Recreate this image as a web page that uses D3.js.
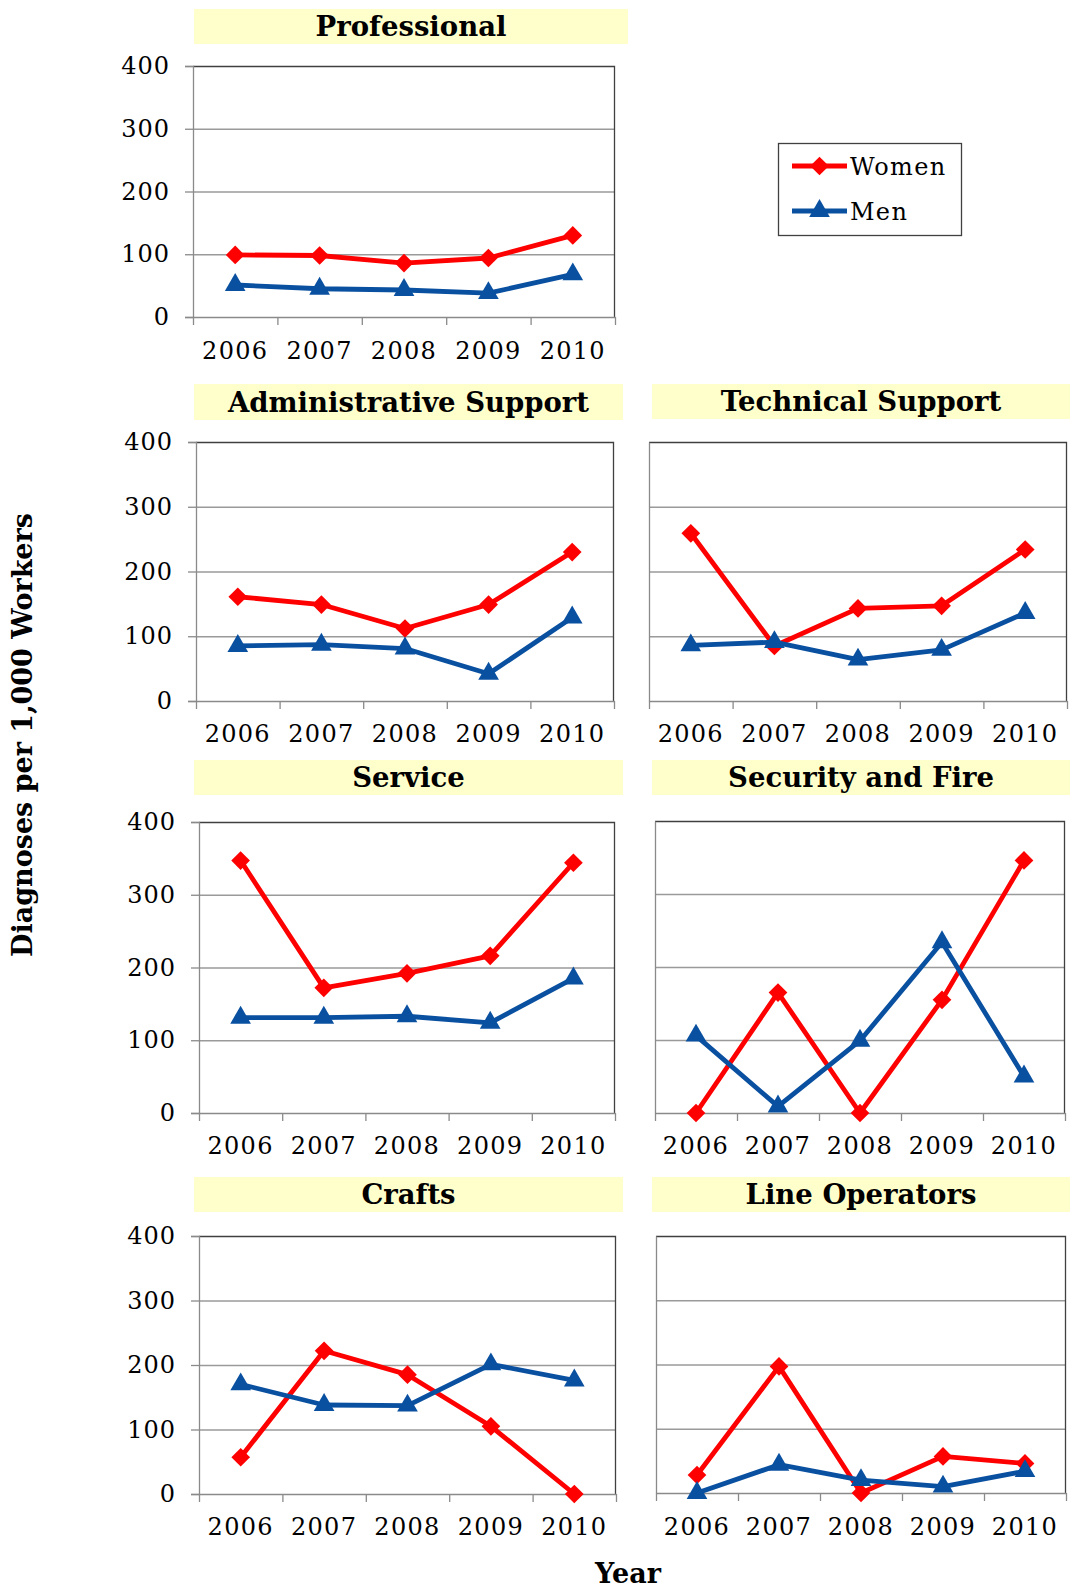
<!DOCTYPE html>
<html>
<head>
<meta charset="utf-8">
<script src="https://cdn.jsdelivr.net/npm/d3@7"></script>
<style>
  body { margin: 0; background: #fff; }
  svg { display: block; }
  text { font-family: "DejaVu Serif", serif; fill: #000; }
</style>
</head>
<body>
<svg id="chart" width="1070" height="1589"></svg>
<script>
// values
var years = ["2006", "2007", "2008", "2009", "2010"];
var yTicks = [0, 100, 200, 300, 400];
var panelTitles = ["Professional", "Administrative Support", "Technical Support",
	"Service", "Security and Fire", "Crafts", "Line Operators"];
var women = [
	[99, 98, 86, 94, 130],
	[161, 149, 112, 149, 230],
	[259, 85, 143, 147, 234],
	[347, 172, 192, 216, 344],
	[0, 165, 0, 155, 346],
	[57, 222, 185, 105, 0],
	[28, 197, 0, 57, 46]
];
var men = [
	[51, 45, 43, 38, 68],
	[85, 87, 81, 42, 129],
	[86, 91, 64, 79, 136],
	[131, 131, 133, 124, 185],
	[106, 9, 99, 234, 50],
	[170, 138, 137, 201, 176],
	[0, 44, 20, 10, 34]
];
var seriesNames = ["Women", "Men"];

var red = "#ff0000", blue = "#0a50a0";

// panel boxes: title [x0,x1,y0,y1], plot [x0,x1,y0,y1], y of year labels
var layout = [
	{ title: [194, 628, 9, 44], plot: [193, 615, 66, 317], labelY: 350, yLabels: true },
	{ title: [194, 623, 384, 420], plot: [196, 614, 442, 701], labelY: 733, yLabels: true },
	{ title: [652, 1070, 384, 419], plot: [649, 1067, 442, 701], labelY: 733, yLabels: false },
	{ title: [194, 623, 760, 795], plot: [199, 615, 822, 1113], labelY: 1145, yLabels: true },
	{ title: [652, 1070, 760, 795], plot: [655, 1065, 821, 1113], labelY: 1145, yLabels: false },
	{ title: [194, 623, 1177, 1212], plot: [199, 616, 1236, 1494], labelY: 1526, yLabels: true },
	{ title: [652, 1070, 1177, 1212], plot: [656, 1066, 1236, 1493], labelY: 1526, yLabels: false }
];

var svg = d3.select("#chart");

var diamond = d3.symbol().type(d3.symbolSquare).size(175);
var triangle = d3.symbol().type(d3.symbolTriangle).size(185);

function drawPanel(i) {
	var L = layout[i];
	var p = L.plot;
	var w = p[1] - p[0], h = p[3] - p[2];

	// title band
	svg.append("rect")
		.attr("x", L.title[0]).attr("y", L.title[2])
		.attr("width", L.title[1] - L.title[0])
		.attr("height", L.title[3] - L.title[2])
		.attr("fill", "#ffffcc");
	svg.append("text")
		.attr("x", (L.title[0] + L.title[1]) / 2)
		.attr("y", (L.title[2] + L.title[3]) / 2)
		.attr("dy", "0.36em")
		.attr("text-anchor", "middle")
		.style("font-size", "27.5px")
		.style("font-weight", "bold")
		.text(panelTitles[i]);

	var g = svg.append("g").attr("transform", "translate(" + p[0] + "," + p[2] + ")");

	var x = d3.scaleBand().domain(years).range([0, w]);
	var xEdges = d3.scaleLinear().domain([0, years.length]).range([0, w]);
	var y = d3.scaleLinear().domain([0, 400]).range([h, 0]);

	g.append("rect").attr("width", w).attr("height", h).attr("fill", "#fff");

	// gridlines
	g.append("g")
		.call(d3.axisLeft(y).tickValues([100, 200, 300]).tickSize(-w).tickFormat(""))
		.call(function (s) {
			s.select(".domain").remove();
			s.selectAll("line").attr("stroke", "#9a9a9a").attr("stroke-width", 1.3);
		});

	// top / right frame
	g.append("path")
		.attr("d", "M0,0.5H" + (w - 0.5) + "V" + h)
		.attr("fill", "none").attr("stroke", "#404040").attr("stroke-width", 1.3);

	// y axis
	var yAxis = d3.axisLeft(y).tickValues(yTicks).tickSizeOuter(0)
		.tickSize(L.yLabels ? 8 : 0).tickPadding(15);
	if (!L.yLabels) yAxis.tickFormat("");
	g.append("g")
		.call(yAxis)
		.call(function (s) {
			s.select(".domain").attr("stroke", "#8a8a8a").attr("stroke-width", 1.3);
			s.selectAll("line").attr("stroke", "#8a8a8a").attr("stroke-width", 1.3);
			s.selectAll("text")
				.style("font-family", "DejaVu Serif")
				.style("font-size", "24px")
				.style("letter-spacing", "1px")
				.attr("fill", "#000");
		});

	// x axis: ticks on category edges, labels at centres
	g.append("g")
		.attr("transform", "translate(0," + h + ")")
		.call(d3.axisBottom(xEdges).ticks(years.length).tickSize(8).tickSizeOuter(0).tickFormat(""))
		.call(function (s) {
			s.select(".domain").attr("stroke", "#8a8a8a").attr("stroke-width", 1.3);
			s.selectAll("line").attr("stroke", "#8a8a8a").attr("stroke-width", 1.3);
		});
	g.append("g")
		.attr("transform", "translate(0," + h + ")")
		.call(d3.axisBottom(x).tickSize(0))
		.call(function (s) {
			s.select(".domain").remove();
			s.selectAll("text")
				.attr("y", L.labelY - p[3])
				.attr("dy", "0.36em")
				.style("font-family", "DejaVu Serif")
				.style("font-size", "24px")
				.style("letter-spacing", "1.3px")
				.attr("fill", "#000");
		});

	var line = d3.line()
		.x(function (d, j) { return x(years[j]) + x.bandwidth() / 2; })
		.y(function (d) { return y(d); });

	[[women[i], red, diamond, 45], [men[i], blue, triangle, 0]].forEach(function (s) {
		g.append("path")
			.attr("d", line(s[0]))
			.attr("fill", "none")
			.attr("stroke", s[1])
			.attr("stroke-width", 4.8)
			.attr("stroke-linejoin", "round");
		g.selectAll(null)
			.data(s[0]).enter()
			.append("path")
			.attr("d", s[2])
			.attr("fill", s[1])
			.attr("transform", function (d, j) {
				return "translate(" + (x(years[j]) + x.bandwidth() / 2) + "," + y(d) + ") rotate(" + s[3] + ")";
			});
	});
}

d3.range(panelTitles.length).forEach(drawPanel);

// legend
var legend = svg.append("g").attr("transform", "translate(778,143)");
legend.append("rect")
	.attr("x", 0.5).attr("y", 0.5).attr("width", 183).attr("height", 92)
	.attr("fill", "#fff").attr("stroke", "#404040").attr("stroke-width", 1.3);
seriesNames.forEach(function (name, k) {
	var ly = 23 + k * 45;
	var col = k === 0 ? red : blue;
	legend.append("line")
		.attr("x1", 14).attr("x2", 69).attr("y1", ly).attr("y2", ly)
		.attr("stroke", col).attr("stroke-width", 4.8);
	legend.append("path")
		.attr("d", k === 0 ? diamond : triangle)
		.attr("fill", col)
		.attr("transform", "translate(41.5," + ly + ") rotate(" + (k === 0 ? 45 : 0) + ")");
	legend.append("text")
		.attr("x", 72).attr("y", ly)
		.attr("dy", "0.36em")
		.style("font-size", "24px")
		.style("letter-spacing", "1.3px")
		.text(name);
});

// axis titles
svg.append("text")
	.attr("transform", "translate(22,735) rotate(-90)")
	.attr("dy", "0.36em")
	.attr("text-anchor", "middle")
	.style("font-size", "27px")
	.style("font-weight", "bold")
	.text("Diagnoses per 1,000 Workers");
svg.append("text")
	.attr("x", 628).attr("y", 1583)
	.attr("text-anchor", "middle")
	.style("font-size", "27px")
	.style("font-weight", "bold")
	.text("Year");
</script>
</body>
</html>
